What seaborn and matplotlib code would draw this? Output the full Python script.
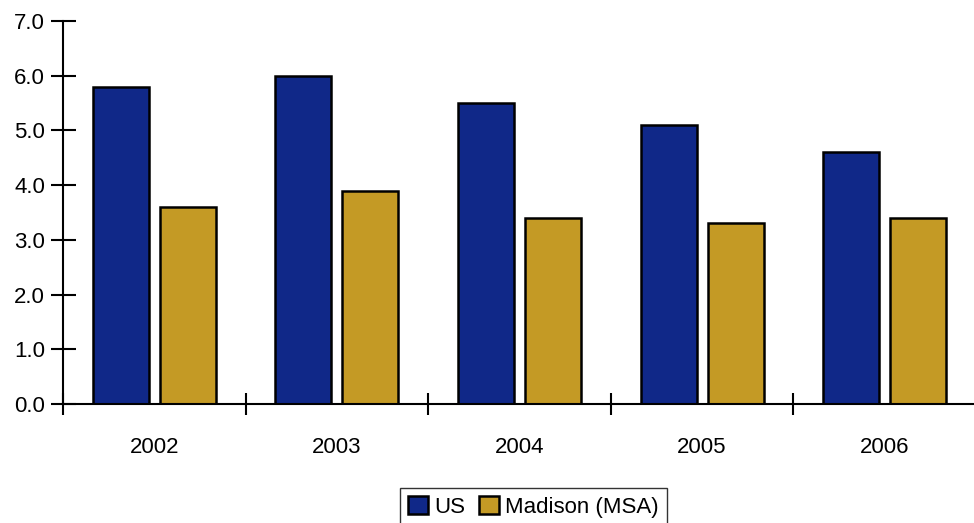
import matplotlib
matplotlib.use("Agg")
import matplotlib.pyplot as plt
import seaborn as sns
import pandas as pd
from matplotlib.ticker import FixedLocator

years = ["2002", "2003", "2004", "2005", "2006"]
us_values = [5.8, 6.0, 5.5, 5.1, 4.6]
madison_values = [3.6, 3.9, 3.4, 3.3, 3.4]
series_names = ["US", "Madison (MSA)"]
y_ticks = [0.0, 1.0, 2.0, 3.0, 4.0, 5.0, 6.0, 7.0]

df = pd.DataFrame({
    "year": years * 2,
    "value": us_values + madison_values,
    "series": [series_names[0]] * len(years) + [series_names[1]] * len(years),
})

sns.set_style("white")
plt.rcParams["font.family"] = ["Liberation Sans Narrow", "Liberation Sans", "DejaVu Sans"]
plt.rcParams["text.color"] = "black"
plt.rcParams["xtick.color"] = "black"
plt.rcParams["ytick.color"] = "black"

fig = plt.figure(figsize=(9.74, 5.23), dpi=100)
ax = fig.add_axes([63 / 974, (523 - 404) / 523, 1 - 63 / 974 + 0.002, (404 - 21) / 523])

palette = {series_names[0]: "#102888", series_names[1]: "#C49A25"}
sns.barplot(data=df, x="year", y="value", hue="series", palette=palette,
            width=0.734, gap=0.163, edgecolor="black", linewidth=1.8,
            saturation=1, ax=ax, legend=True)

ax.set_xlim(-0.5, 4.5)
ax.set_ylim(0, 7)
ax.set_yticks(y_ticks)
ax.set_yticklabels([f"{v:.1f}" for v in y_ticks], fontsize=16)
ax.set_xticks(range(len(years)))
ax.set_xticklabels(years, fontsize=16)
ax.xaxis.set_minor_locator(FixedLocator([i - 0.5 for i in range(len(years) + 1)]))
ax.tick_params(axis="x", which="major", length=0, pad=24, bottom=True)
ax.tick_params(axis="x", which="minor", direction="inout", length=16, width=1.5,
               color="black", bottom=True)
ax.tick_params(axis="y", direction="inout", length=18, width=1.5, color="black", pad=4, left=True)
ax.set_xlabel("")
ax.set_ylabel("")
for s in ["top", "right"]:
    ax.spines[s].set_visible(False)
for s in ["left", "bottom"]:
    ax.spines[s].set_color("black")
    ax.spines[s].set_linewidth(1.5)

leg = ax.legend(loc="upper center", bbox_to_anchor=(0.515, -0.22), ncol=2,
                frameon=True, fancybox=False, fontsize=16, handlelength=0.9,
                handleheight=0.9, handletextpad=0.3, columnspacing=0.6,
                borderpad=0.35, borderaxespad=0)
leg.get_frame().set_edgecolor("black")
leg.get_frame().set_linewidth(1.0)

fig.savefig("out.png", dpi=100)
